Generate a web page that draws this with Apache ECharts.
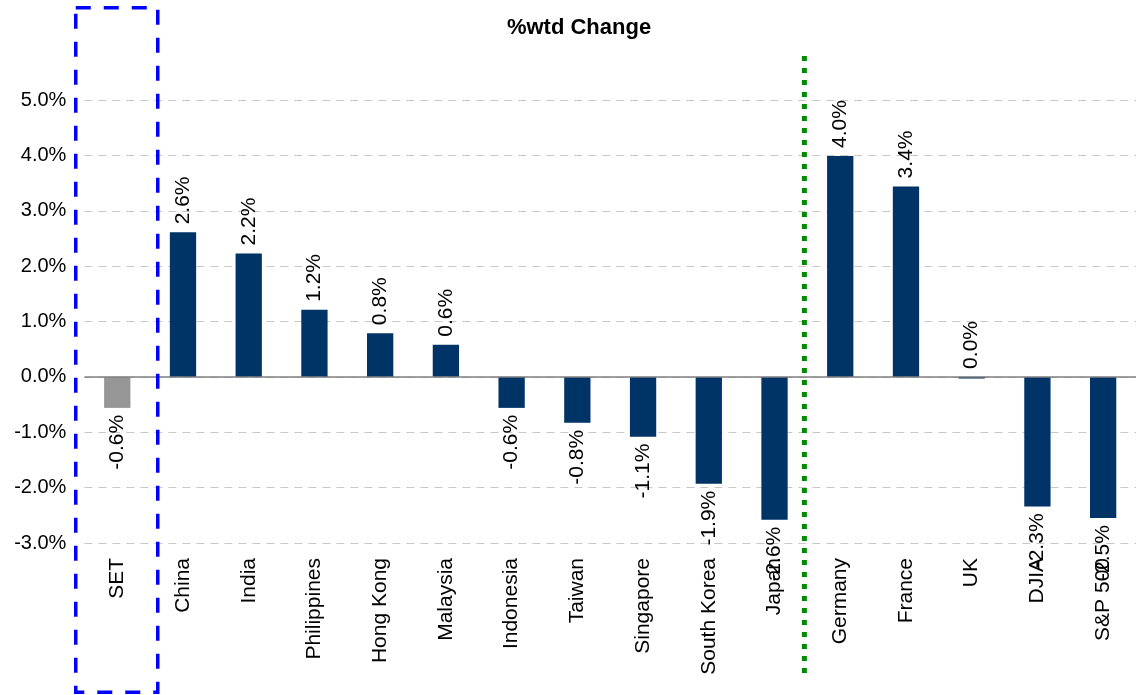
<!DOCTYPE html>
<html>
<head>
<meta charset="utf-8">
<script src="https://cdn.jsdelivr.net/npm/echarts@6/dist/echarts.min.js"></script>
<style>html,body{margin:0;padding:0;background:#fff;}#c{width:1136px;height:695px;}</style>
</head>
<body>
<div id="c"></div>
<script>
const categories = ['SET','China','India','Philippines','Hong Kong','Malaysia','Indonesia','Taiwan','Singapore','South Korea','Japan','Germany','France','UK','DJIA','S&P 500'];
const values = [-0.56, 2.61, 2.23, 1.21, 0.79, 0.58, -0.56, -0.83, -1.08, -1.93, -2.58, 3.99, 3.44, -0.03, -2.34, -2.55];
const highlighted = ['SET'];
const labelAbove = ['UK'];
const yTicks = {min: -3, max: 5, interval: 1};

const FONT = 'Liberation Sans, Arial, sans-serif';
const fmt = v => (Math.round(v * 10) / 10).toFixed(1) + '%';

const data = values.map((v, i) => {
  const up = v >= 0 || labelAbove.includes(categories[i]);
  return {
    value: v,
    itemStyle: {color: highlighted.includes(categories[i]) ? '#969696' : '#003366'},
    label: up
      ? {position: 'top', rotate: 90, align: 'left', verticalAlign: 'middle', distance: 8}
      : {position: 'bottom', rotate: 90, align: 'right', verticalAlign: 'middle', distance: 7}
  };
});

const chart = echarts.init(document.getElementById('c'), null, {renderer: 'canvas'});
chart.setOption({
  animation: false,
  backgroundColor: '#ffffff',
  title: {
    text: '%wtd Change', left: 574, top: 12, textAlign: 'center',
    textStyle: {fontFamily: FONT, fontWeight: 'bold', fontSize: 22, color: '#000'}
  },
  grid: {left: 84.4, top: 100, width: 1059, height: 443, containLabel: false},
  xAxis: {
    type: 'category', data: categories,
    axisLine: {show: false, onZero: false}, axisTick: {show: false},
    axisLabel: {rotate: 90, margin: 15, interval: 0, fontFamily: FONT, fontSize: 21, color: '#000'},
    splitLine: {show: false}
  },
  yAxis: {
    type: 'value', min: yTicks.min, max: yTicks.max, interval: yTicks.interval,
    axisLine: {show: false}, axisTick: {show: false},
    axisLabel: {formatter: v => v.toFixed(1) + '%', margin: 18, fontFamily: FONT, fontSize: 20, color: '#000'},
    splitLine: {show: true, lineStyle: {color: '#c8c8c8', type: [8, 6], width: 1}}
  },
  series: [{
    type: 'bar', data: data, barWidth: '40%',
    label: {show: true, formatter: p => fmt(p.value), fontFamily: FONT, fontSize: 21, color: '#000'},
    markLine: {
      silent: true, symbol: 'none', label: {show: false},
      lineStyle: {color: '#7f7f7f', type: 'solid', width: 1.5},
      data: [{yAxis: 0}]
    }
  }]
});

const cx = i => chart.convertToPixel({xAxisIndex: 0}, categories[i]);
const setX = cx(0);
const splitX = (cx(10) + cx(11)) / 2 - 3;
chart.setOption({
  graphic: [
    {type: 'rect', shape: {x: setX - 41.5, y: 7.7, width: 82, height: 684.5},
     style: {fill: 'none', stroke: '#0000ff', lineWidth: 3.5, lineDash: [15, 13]}, z: 100},
    {type: 'line', shape: {x1: splitX, y1: 56, x2: splitX, y2: 674},
     style: {stroke: '#008a00', lineWidth: 5, lineDash: [5, 7]}, z: 100}
  ]
});
</script>
</body>
</html>
